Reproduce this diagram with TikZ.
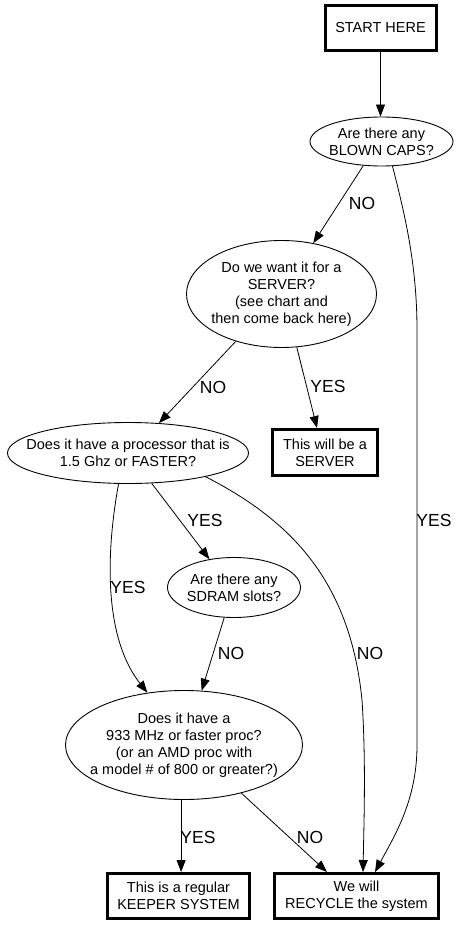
\documentclass[tikz,border=0pt]{standalone}
\usepackage{fontspec}
\setmainfont{Liberation Sans}
\usetikzlibrary{shapes.geometric,arrows.meta,calc}
\begin{document}
\begin{tikzpicture}[x=1pt,y=-1pt,
  every node/.style={font=\fontsize{14.5}{17}\selectfont, align=center, inner sep=0pt},
  box/.style={draw, line width=3pt, rectangle},
  oval/.style={draw, ellipse, line width=0.9pt},
  lab/.style={font=\fontsize{17.5}{20}\selectfont},
  conn/.style={draw, line width=0.8pt, -{Triangle[length=12pt,width=9pt]}}]
\fill[white] (0,0) rectangle (461,925);
\useasboundingbox (0,0) rectangle (461,925);

% nodes
\node[box, minimum width=111, minimum height=45] (start) at (380.5,28) {START HERE};
\node[oval, minimum width=143, minimum height=49] (caps) at (381.5,141.5) {};
\node (capsT) at (caps) {Are there any\\BLOWN CAPS?};
\node[oval, minimum width=190, minimum height=107] (server) at (281.5,294) {};
\node (serverT) at (server) {Do we want it for a\\SERVER?\\(see chart and\\then come back here)};
\node[oval, minimum width=241, minimum height=61] (proc) at (128,453) {};
\node (procT) at (proc) {Does it have a processor that is\\1.5 Ghz or FASTER?};
\node[box, minimum width=105, minimum height=46] (sbox) at (325,452.5) {This will be a\\SERVER};
\node[oval, minimum width=133, minimum height=60] (sdram) at (234,587.5) {};
\node (sdramT) at (sdram) {Are there any\\SDRAM slots?};
\node[oval, minimum width=237, minimum height=109] (q933) at (184,745) {};
\node (q933T) at (q933) {Does it have a\\933 MHz or faster proc?\\(or an AMD proc with\\a model \# of 800 or greater?)};
\node[box, minimum width=142, minimum height=45] (keeper) at (178.5,896) {This is a regular\\KEEPER SYSTEM};
\node[box, minimum width=164, minimum height=45] (recycle) at (356.5,896) {We will\\RECYCLE the system};

% connectors
\draw[conn] (start.south) -- (start.south |- caps.north);
\draw[conn] (caps.-127) -- (server.58);
\draw[conn] (caps.-66) .. controls (405,215) and (417,265) .. (417,330) -- (417,745)
  .. controls (417,800) and (395,835) .. ($(recycle.north)+(18.5,0)$);
\draw[conn] (server.-134) -- (proc.44);
\draw[conn] (server.-74.5) -- ($(sbox.north)+(-8,0)$);
\draw[conn] (proc.-52) -- (sdram.131);
\draw[conn] (proc.-107) .. controls (110,530) and (98,630) .. (q933.125);
\draw[conn] (proc.-17) .. controls (290,520) and (350,580) .. (362,700)
  .. controls (366,760) and (364,820) .. ($(recycle.north)+(6.5,0)$);
\draw[conn] (sdram.-108) -- (q933.72);
\draw[conn] (q933.-93) -- (q933.-93 |- keeper.north);
\draw[conn] (q933.-40) -- ($(recycle.north)+(-29.5,0)$);

% labels
\node[lab] (l1) at (362,203) {NO};
\node[lab] (l2) at (434,520) {YES};
\node[lab] (l3) at (213,387) {NO};
\node[lab] (l4) at (328,386) {YES};
\node[lab] (l5) at (205,520) {YES};
\node[lab] (l6) at (128,587) {YES};
\node[lab] (l7) at (231,653) {NO};
\node[lab] (l8) at (370,653) {NO};
\node[lab] (l9) at (198,837) {YES};
\node[lab] (l10) at (310,837) {NO};
\end{tikzpicture}
\end{document}
